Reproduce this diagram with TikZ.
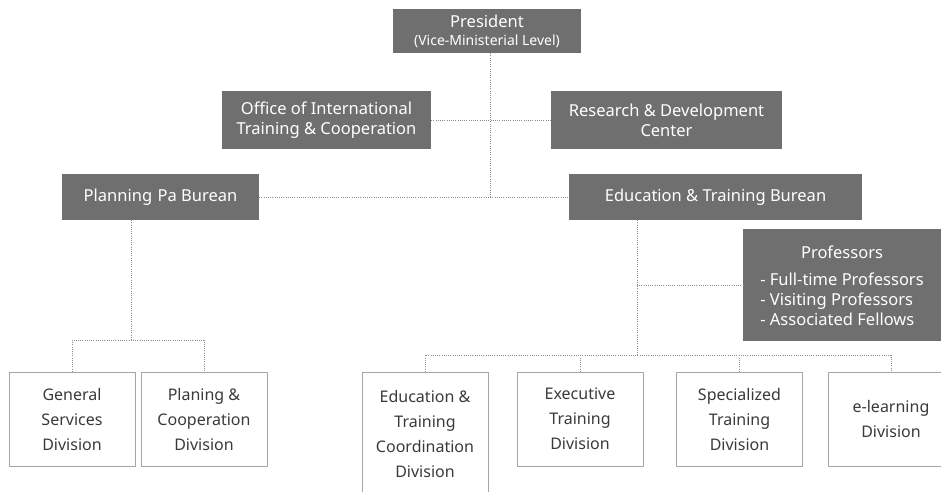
\documentclass[tikz,border=0pt]{standalone}
\usepackage{fontspec}
\setmainfont{Noto Sans}
\usepackage{tikz}
\usetikzlibrary{positioning}
\definecolor{headgray}{HTML}{6F6F6F}
\definecolor{divborder}{HTML}{A5A5A5}
\definecolor{divtext}{HTML}{3A3A3A}
\definecolor{linkgray}{HTML}{8C8C8C}
\tikzset{
every node/.style={font=\fontsize{16.5}{20}\selectfont, align=center, inner sep=0}
, headbox/.style={fill=headgray, text=white}
, divbox/.style={draw=divborder, line width=1pt, fill=white, text=divtext, minimum width=126pt, minimum height=94pt, font=\fontsize{16}{25}\selectfont}
, orgline/.style={draw=linkgray, line width=0.8pt, dash pattern=on 0.8pt off 1.4pt}}

\begin{document}
\begin{tikzpicture}[x=1pt,y=-1pt]
\clip (0,0) rectangle (941,491);
% top level
\node[headbox, minimum width=188pt, minimum height=44pt] at (487,31) (pres) {President\\[-2pt]{\fontsize{14}{15}\selectfont (Vice-Ministerial Level)}};
\node[headbox, minimum width=209pt, minimum height=58pt] at (326.5,120) (oitc) {Office of International\\Training \& Cooperation};
\node[headbox, minimum width=231pt, minimum height=58pt] at (666.5,120) (rdc) {Research \& Development\\Center};
\node[headbox, minimum width=197pt, minimum height=46pt] at (160.5,197) (plan) {Planning\,\,Pa Burean};
\node[headbox, minimum width=293pt, minimum height=46pt] at (715.5,197) (edu) {Education \& Training Burean};
\node[headbox, minimum width=198pt, minimum height=112pt] at (842,285) (prof) {\rule{0pt}{20pt}Professors\\[7pt]
  \begin{tabular}[t]{@{}l@{}}- Full-time Professors\\- Visiting Professors\\- Associated Fellows\end{tabular}};
% divisions
\node[divbox] at (72,419) (gsd) {General\\Services\\Division};
\node[divbox] at (204,419) (pcd) {Planing \&\\Cooperation\\Division};
\node[divbox, minimum height=124pt] at (425,434) (etcd) {Education \&\\Training\\Coordination\\Division};
\node[divbox] at (580,419) (etd) {Executive\\Training\\Division};
\node[divbox] at (739.5,419) (std) {Specialized\\Training\\Division};
\node[divbox] at (891,419) (eld) {e-learning\\Division};
\coordinate (presjoin) at (490,197);
\coordinate (planjoin) at (131,340);
\coordinate (edujoin) at (637,355);
% links
\draw[orgline] (presjoin |- pres.south) -- (presjoin);
\draw[orgline] (oitc.east) -- (rdc.west);
\draw[orgline] (plan.east) -- (edu.west);
\draw[orgline] (planjoin |- plan.south) -- (planjoin);
\draw[orgline] (gsd.north) |- (planjoin) -| (pcd.north);
\draw[orgline] (edujoin |- edu.south) -- (edujoin);
\draw[orgline] (edujoin |- prof.west) -- (prof.west);
\draw[orgline] (etcd.north) |- (edujoin) -| (eld.north);
\draw[orgline] (etd.north) -- (etd.north |- edujoin);
\draw[orgline] (std.north) -- (std.north |- edujoin);
\end{tikzpicture}
\end{document}
